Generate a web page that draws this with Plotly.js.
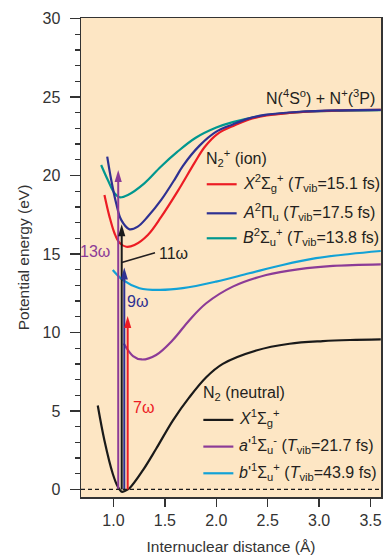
<!DOCTYPE html>
<html><head><meta charset="utf-8">
<script src="https://cdn.plot.ly/plotly-3.0.1.min.js"></script>
<style>html,body{margin:0;padding:0;background:#fff;}#chart{width:383px;height:556px;}</style>
</head><body><div id="chart"></div>
<script>
// ---------------- data ----------------
// Neutral N2 X1Σg+
const rNeutralX = [0.847, 0.912, 0.993, 1.04, 1.08, 1.11, 1.156, 1.285, 1.415, 1.577, 1.739, 1.902, 2.063, 2.388, 2.712, 3.036, 3.3, 3.6];
const eNeutralX = [5.35, 3.12, 1.0, 0.2, -0.15, -0.1, 0.08, 1.21, 2.59, 4.39, 5.88, 7.15, 8.0, 8.85, 9.28, 9.45, 9.52, 9.56];
// Neutral a'1Σu-
const rNeutralA = [1.10, 1.19, 1.275, 1.415, 1.577, 1.74, 1.902, 2.16, 2.485, 2.81, 3.135, 3.6];
const eNeutralA = [9.3, 8.5, 8.28, 8.57, 9.52, 10.8, 11.86, 12.92, 13.66, 14.04, 14.24, 14.34];
// Neutral b'1Σu+
const rNeutralB = [0.993, 1.09, 1.253, 1.447, 1.674, 1.998, 2.32, 2.645, 2.97, 3.3, 3.6];
const eNeutralB = [13.98, 13.35, 12.82, 12.71, 12.82, 13.24, 13.77, 14.3, 14.73, 15.0, 15.19];
// Ion N2+ X2Σg+
const rIonX = [0.912, 0.961, 1.01, 1.058, 1.124, 1.204, 1.334, 1.464, 1.625, 1.788, 1.885, 2.01, 2.18, 2.32, 2.49, 2.81, 3.2, 3.6];
const eIonX = [18.76, 17.38, 16.32, 15.72, 15.46, 15.57, 16.21, 17.36, 19.0, 20.8, 21.8, 22.64, 23.2, 23.57, 23.82, 24.04, 24.15, 24.18];
// Ion N2+ A2Πu
const rIonA = [0.939, 0.978, 1.026, 1.075, 1.156, 1.236, 1.334, 1.464, 1.60, 1.674, 1.837, 2.0, 2.16, 2.32, 2.49, 2.81, 3.2, 3.6];
const eIonA = [21.2, 19.71, 18.23, 17.17, 16.57, 16.74, 17.38, 18.44, 19.8, 20.6, 21.9, 22.79, 23.25, 23.64, 23.87, 24.06, 24.15, 24.18];
// Ion N2+ B2Σu+
const rIonB = [0.88, 0.945, 1.01, 1.06, 1.14, 1.30, 1.46, 1.62, 1.80, 2.0, 2.16, 2.49, 2.81, 3.2, 3.6];
const eIonB = [20.67, 19.71, 18.87, 18.61, 18.76, 19.5, 20.56, 21.5, 22.4, 23.05, 23.4, 23.85, 24.04, 24.12, 24.16];

// Harmonic photon arrows
const arrowLabels = ['13ω', '11ω', '9ω', '7ω'];
const arrowR = [1.046, 1.08, 1.105, 1.138];
const arrowBottom = [0, 0, 0, 0];
const arrowTop = [20.35, 16.9, 14.14, 11.05];
// label positions for the harmonics
const labelR = [0.985, 1.42, 1.233, 1.29];
const labelE = [15.15, 15.04, 11.96, 5.24];
const leaderR = [1.08, 1.404];
const leaderE = [14.45, 15.08];

// Legend texts
const ionHeader = 'N<sub>2</sub><sup>+</sup> (ion)';
const ionNames = [
  '<i>X</i><sup>2</sup>Σ<sub>g</sub><sup>+</sup> (<i>T</i><sub>vib</sub>=15.1 fs)',
  '<i>A</i><sup>2</sup>Π<sub>u</sub> (<i>T</i><sub>vib</sub>=17.5 fs)',
  '<i>B</i><sup>2</sup>Σ<sub>u</sub><sup>+</sup> (<i>T</i><sub>vib</sub>=13.8 fs)'
];
const neutralHeader = 'N<sub>2</sub> (neutral)';
const neutralNames = [
  '<i>X</i><sup>1</sup>Σ<sub>g</sub><sup>+</sup>',
  '<i>a</i>\'<sup>1</sup>Σ<sub>u</sub><sup>-</sup> (<i>T</i><sub>vib</sub>=21.7 fs)',
  '<i>b</i>\'<sup>1</sup>Σ<sub>u</sub><sup>+</sup> (<i>T</i><sub>vib</sub>=43.9 fs)'
];
const asymptoteLabel = 'N(<sup>4</sup>S<sup>o</sup>) + N<sup>+</sup>(<sup>3</sup>P)';
const xTicks = [1.0, 1.5, 2.0, 2.5, 3.0, 3.5];

// ---------------- styling ----------------
const FONT = 'Liberation Sans, Arial, Helvetica, sans-serif';
const RED = '#ec1c24', BLUE = '#2e3192', TEAL = '#00978f', PURPLE = '#8c3b97', CYAN = '#12a2d6', BLACK = '#1a1a1a';
const ionColors = [RED, BLUE, TEAL];
const neutralColors = [BLACK, PURPLE, CYAN];
const arrowColors = [PURPLE, BLACK, BLUE, RED];
const labelColors = [PURPLE, '#231f20', BLUE, RED];
const LW = 2.2;
const TS = 16;

function curve(x, y, c) {
  return {x: x, y: y, type: 'scatter', mode: 'lines', line: {color: c, width: LW, shape: 'spline', smoothing: 1}, hoverinfo: 'skip', showlegend: false};
}

const traces = [
  curve(rNeutralX, eNeutralX, BLACK),
  curve(rNeutralA, eNeutralA, PURPLE),
  curve(rNeutralB, eNeutralB, CYAN),
  curve(rIonB, eIonB, TEAL),
  curve(rIonX, eIonX, RED),
  curve(rIonA, eIonA, BLUE)
];

// arrow shafts
arrowR.forEach((r, i) => {
  traces.push({x: [r, r], y: [arrowBottom[i], arrowTop[i] - 0.5], type: 'scatter', mode: 'lines',
    line: {color: arrowColors[i], width: 2}, hoverinfo: 'skip', showlegend: false});
});
// leader line for 11ω
traces.push({x: leaderR, y: leaderE, type: 'scatter', mode: 'lines', line: {color: '#231f20', width: 1.6}, hoverinfo: 'skip', showlegend: false});

const shapes = [
  // dashed zero line
  {type: 'line', xref: 'paper', yref: 'y', x0: 0, x1: 1, y0: 0, y1: 0, line: {color: BLACK, width: 1.3, dash: '4px,3px'}, layer: 'above'}
];
// arrowheads (pixel-sized, anchored at tip)
arrowR.forEach((r, i) => {
  shapes.push({type: 'path', xref: 'x', yref: 'y', xsizemode: 'pixel', ysizemode: 'pixel', xanchor: r, yanchor: arrowTop[i],
    path: 'M0,0 L-3.6,-12 L3.6,-12 Z', fillcolor: arrowColors[i], line: {width: 0}, layer: 'above'});
});

const annotations = [];
function txt(x, y, t, opts) {
  annotations.push(Object.assign({x: x, y: y, xref: 'x', yref: 'y', text: t, showarrow: false, xanchor: 'left', yanchor: 'middle',
    font: {family: FONT, size: TS, color: '#231f20'}}, opts || {}));
}
txt(3.56, 25.0, asymptoteLabel, {xanchor: 'right'});
txt(1.885, 21.1, ionHeader);
const ionRowE = [19.44, 17.59, 16.0];
ionNames.forEach((n, i) => {
  shapes.push({type: 'line', xref: 'x', yref: 'y', x0: 1.907, x1: 2.198, y0: ionRowE[i], y1: ionRowE[i], line: {color: ionColors[i], width: LW}});
  txt(2.245, ionRowE[i] + 0.1, n);
});
txt(1.855, 6.13, neutralHeader);
const neutralRowE = [4.43, 2.73, 1.03];
neutralNames.forEach((n, i) => {
  shapes.push({type: 'line', xref: 'x', yref: 'y', x0: 1.874, x1: 2.166, y0: neutralRowE[i], y1: neutralRowE[i], line: {color: neutralColors[i], width: LW}});
  txt(2.205, neutralRowE[i] + 0.1, n);
});
arrowLabels.forEach((l, i) => {
  const anchor = i === 0 ? 'right' : (i === 1 ? 'left' : 'center');
  txt(labelR[i], labelE[i], l, {xanchor: anchor, font: {family: FONT, size: TS, color: labelColors[i]}});
});

const axisCommon = {
  showline: true, linecolor: '#333', linewidth: 1.5, mirror: true, showgrid: false, zeroline: false,
  ticks: 'outside', tickcolor: '#333', tickwidth: 1.3,
  tickfont: {family: FONT, size: 16, color: '#333'}
};

const layout = {
  width: 383, height: 556,
  margin: {l: 81, r: 2, t: 18, b: 59},
  paper_bgcolor: '#ffffff', plot_bgcolor: '#fde6c4',
  font: {family: FONT, size: TS, color: '#231f20'},
  showlegend: false,
  xaxis: Object.assign({}, axisCommon, {
    range: [0.684, 3.602], tickvals: xTicks, tickformat: '.1f', ticklen: 8,
    title: {text: 'Internuclear distance (Å)', font: {family: FONT, size: 15.5, color: '#333'}, standoff: 13}
  }),
  yaxis: Object.assign({}, axisCommon, {
    range: [-0.48, 30.03], tick0: 0, dtick: 5, ticklen: 10, ticklabelstandoff: 6,
    minor: {dtick: 1, ticks: 'outside', ticklen: 5, tickcolor: '#333', tickwidth: 1.3, showgrid: false},
    title: {text: 'Potential energy (eV)', font: {family: FONT, size: 15.5, color: '#333'}, standoff: 9}
  }),
  shapes: shapes,
  annotations: annotations
};

Plotly.newPlot('chart', traces, layout, {displayModeBar: false, staticPlot: true});
</script>
</body></html>
